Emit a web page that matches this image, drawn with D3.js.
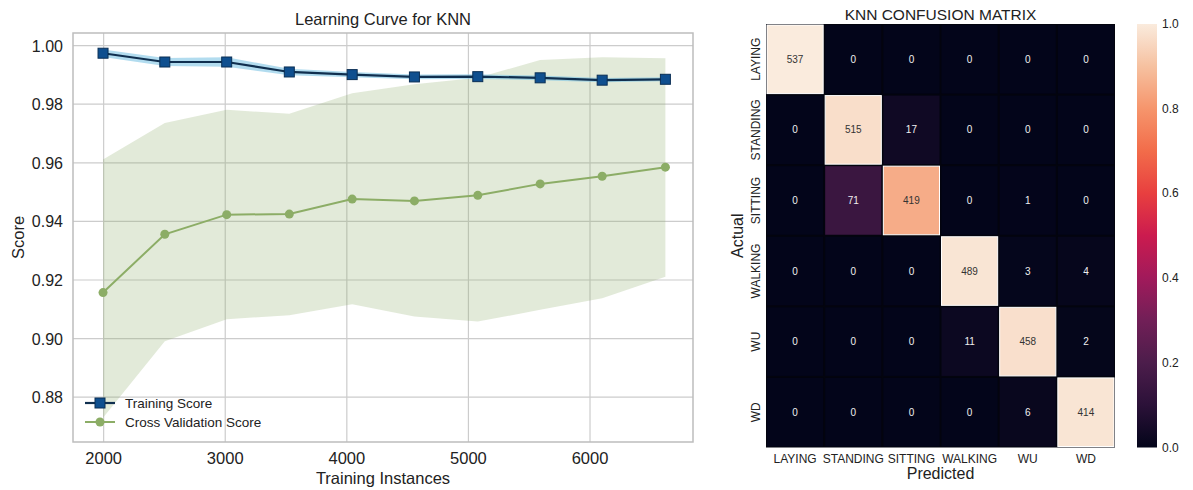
<!DOCTYPE html>
<html>
<head>
<meta charset="utf-8">
<script src="https://cdn.jsdelivr.net/npm/d3@7"></script>
<style>
  body { margin: 0; background: #fff; }
  text { font-family: "Liberation Sans", Arial, sans-serif; }
</style>
</head>
<body>
<div id="chart"></div>
<script>
// learning curve values
const trainSizes = [1995, 2503, 3012, 3527, 4044, 4556, 5077, 5590, 6100, 6620];
const trainScore = [0.9974, 0.9944, 0.9944, 0.9910, 0.9901, 0.9893, 0.9894, 0.9890, 0.9882, 0.9885];
const trainStd   = [0.0013, 0.0014, 0.0016, 0.0011, 0.0009, 0.0008, 0.0008, 0.0008, 0.0007, 0.0007];
const cvScore = [0.9157, 0.9356, 0.9423, 0.9425, 0.9476, 0.9470, 0.9489, 0.9528, 0.9554, 0.9585];
const cvUpper = [0.9611, 0.9736, 0.9781, 0.9767, 0.9837, 0.9868, 0.9890, 0.9951, 0.9960, 0.9957];
const cvLower = [0.8730, 0.8991, 0.9066, 0.9080, 0.9117, 0.9075, 0.9058, 0.9098, 0.9138, 0.9211];
const xTicks = [2000, 3000, 4000, 5000, 6000];
const yTicks = [0.88, 0.90, 0.92, 0.94, 0.96, 0.98, 1.00];

// confusion matrix
const classes = ["LAYING", "STANDING", "SITTING", "WALKING", "WU", "WD"];
const matrix = [
  [537, 0, 0, 0, 0, 0],
  [0, 515, 17, 0, 0, 0],
  [0, 71, 419, 0, 1, 0],
  [0, 0, 0, 489, 3, 4],
  [0, 0, 0, 11, 458, 2],
  [0, 0, 0, 0, 6, 414]
];
const cbarTicks = [0, 0.2, 0.4, 0.6, 0.8, 1.0];

const width = 1193;
const height = 490;

const svg = d3.select("#chart")
  .append("svg")
  .attr("width", width)
  .attr("height", height);

// ---------- learning curve ----------
const lc = { left: 73, right: 693, top: 33, bottom: 442 };

const x = d3.scaleLinear().domain([1748, 6847]).range([lc.left, lc.right]);
const y = d3.scaleLinear().domain([0.8647, 1.0043]).range([lc.bottom, lc.top]);

const gridColor = "#cccccc";
const left = svg.append("g");

left.selectAll(".vgrid").data(xTicks).enter().append("line")
  .attr("x1", (d) => x(d)).attr("x2", (d) => x(d))
  .attr("y1", lc.top).attr("y2", lc.bottom)
  .attr("stroke", gridColor).attr("stroke-width", 1.2);

left.selectAll(".hgrid").data(yTicks).enter().append("line")
  .attr("x1", lc.left).attr("x2", lc.right)
  .attr("y1", (d) => y(d)).attr("y2", (d) => y(d))
  .attr("stroke", gridColor).attr("stroke-width", 1.2);

const green = "#8cad66";
const blue = "#0f4f8f";
const navy = "#102f4f";

const cvData = trainSizes.map((s, i) => ({ s, m: cvScore[i], lo: cvLower[i], hi: cvUpper[i] }));
const trData = trainSizes.map((s, i) => ({ s, m: trainScore[i], lo: trainScore[i] - trainStd[i], hi: trainScore[i] + trainStd[i] }));

const area = d3.area().x((d) => x(d.s)).y0((d) => y(d.lo)).y1((d) => y(d.hi));
const line = d3.line().x((d) => x(d.s)).y((d) => y(d.m));

left.append("path").datum(cvData).attr("d", area)
  .attr("fill", green).attr("fill-opacity", 0.25);
left.append("path").datum(trData).attr("d", area)
  .attr("fill", "#7ec4e4").attr("fill-opacity", 0.6);

left.append("path").datum(cvData).attr("d", line)
  .attr("fill", "none").attr("stroke", green).attr("stroke-width", 2);
left.selectAll(".cvdot").data(cvData).enter().append("circle")
  .attr("cx", (d) => x(d.s)).attr("cy", (d) => y(d.m)).attr("r", 4.5)
  .attr("fill", green);

left.append("path").datum(trData).attr("d", line)
  .attr("fill", "none").attr("stroke", navy).attr("stroke-width", 2.2);
left.selectAll(".trdot").data(trData).enter().append("rect")
  .attr("x", (d) => x(d.s) - 5).attr("y", (d) => y(d.m) - 5)
  .attr("width", 10).attr("height", 10)
  .attr("fill", blue).attr("stroke", "#0a2f55").attr("stroke-width", 1);

left.append("rect")
  .attr("x", lc.left).attr("y", lc.top)
  .attr("width", lc.right - lc.left).attr("height", lc.bottom - lc.top)
  .attr("fill", "none").attr("stroke", "#bdbdbd").attr("stroke-width", 1.5);

left.selectAll(".xt").data(xTicks).enter().append("text")
  .attr("x", (d) => x(d)).attr("y", 464)
  .attr("text-anchor", "middle").style("font-size", "16.5px").attr("fill", "#222")
  .text((d) => d);

left.selectAll(".yt").data(yTicks).enter().append("text")
  .attr("x", 63).attr("y", (d) => y(d) + 6)
  .attr("text-anchor", "end").style("font-size", "16px").attr("fill", "#222")
  .text((d) => d.toFixed(2));

left.append("text")
  .attr("x", (lc.left + lc.right) / 2).attr("y", 25)
  .attr("text-anchor", "middle").style("font-size", "16.5px").attr("fill", "#222")
  .text("Learning Curve for KNN");

left.append("text")
  .attr("x", (lc.left + lc.right) / 2).attr("y", 484)
  .attr("text-anchor", "middle").style("font-size", "16.5px").attr("fill", "#222")
  .text("Training Instances");

left.append("text")
  .attr("transform", `translate(24,${(lc.top + lc.bottom) / 2}) rotate(-90)`)
  .attr("text-anchor", "middle").style("font-size", "16.5px").attr("fill", "#222")
  .text("Score");

// legend
const legend = left.append("g");
legend.append("line").attr("x1", 85).attr("x2", 115).attr("y1", 403).attr("y2", 403)
  .attr("stroke", navy).attr("stroke-width", 2.2);
legend.append("rect").attr("x", 95).attr("y", 398).attr("width", 10).attr("height", 10)
  .attr("fill", blue).attr("stroke", "#0a2f55");
legend.append("text").attr("x", 125).attr("y", 407.5)
  .style("font-size", "13.5px").attr("fill", "#222").text("Training Score");
legend.append("line").attr("x1", 85).attr("x2", 115).attr("y1", 422).attr("y2", 422)
  .attr("stroke", green).attr("stroke-width", 2);
legend.append("circle").attr("cx", 100).attr("cy", 422).attr("r", 4.5).attr("fill", green);
legend.append("text").attr("x", 125).attr("y", 426.5)
  .style("font-size", "13.5px").attr("fill", "#222").text("Cross Validation Score");

// ---------- confusion matrix ----------
const hm = { left: 766, right: 1115, top: 24, bottom: 447.5 };

const hx = d3.scaleBand().domain(classes).range([hm.left, hm.right]);
const hy = d3.scaleBand().domain(classes).range([hm.top, hm.bottom]);

const rocketStops = ["#03051a", "#2b1138", "#4c1d4b", "#711f57", "#a11a5b", "#cb1b4f",
  "#e83f3f", "#f26c4a", "#f6956c", "#f6c1a0", "#faebdd"];
const rocket = d3.scaleLinear()
  .domain(d3.range(rocketStops.length).map((i) => i / (rocketStops.length - 1)))
  .range(rocketStops)
  .interpolate(d3.interpolateRgb);

const cells = [];
matrix.forEach((row, i) => {
  const total = d3.sum(row);
  row.forEach((v, j) => {
    cells.push({ actual: classes[i], pred: classes[j], v, p: v / total });
  });
});

const right = svg.append("g");

right.append("rect")
  .attr("x", hm.left).attr("y", hm.top)
  .attr("width", hm.right - hm.left).attr("height", hm.bottom - hm.top)
  .attr("fill", "#03040e");

right.selectAll(".cell").data(cells).enter().append("rect")
  .attr("x", (d) => hx(d.pred) + 1).attr("y", (d) => hy(d.actual) + 1)
  .attr("width", hx.bandwidth() - 2).attr("height", hy.bandwidth() - 2)
  .attr("fill", (d) => rocket(d.p))
  .attr("stroke", (d) => d.p > 0.5 ? "#ffffff" : "none")
  .attr("stroke-width", 1);

right.selectAll(".val").data(cells).enter().append("text")
  .attr("x", (d) => hx(d.pred) + hx.bandwidth() / 2)
  .attr("y", (d) => hy(d.actual) + hy.bandwidth() / 2 + 3.5)
  .attr("text-anchor", "middle").style("font-size", "10px")
  .attr("fill", (d) => d.p > 0.5 ? "#333" : "#f0f0f0")
  .text((d) => d.v);

right.selectAll(".hxt").data(classes).enter().append("text")
  .attr("x", (d) => hx(d) + hx.bandwidth() / 2).attr("y", 463)
  .attr("text-anchor", "middle").style("font-size", "12px").attr("fill", "#222")
  .text((d) => d);

right.selectAll(".hyt").data(classes).enter().append("text")
  .attr("transform", (d) => `translate(760,${hy(d) + hy.bandwidth() / 2}) rotate(-90)`)
  .attr("text-anchor", "middle").style("font-size", "12px").attr("fill", "#222")
  .text((d) => d);

right.append("text")
  .attr("x", (hm.left + hm.right) / 2).attr("y", 20)
  .attr("text-anchor", "middle").style("font-size", "15.5px").attr("fill", "#222")
  .text("KNN CONFUSION MATRIX");

right.append("text")
  .attr("x", (hm.left + hm.right) / 2).attr("y", 479)
  .attr("text-anchor", "middle").style("font-size", "16px").attr("fill", "#222")
  .text("Predicted");

right.append("text")
  .attr("transform", `translate(743,${(hm.top + hm.bottom) / 2}) rotate(-90)`)
  .attr("text-anchor", "middle").style("font-size", "16px").attr("fill", "#222")
  .text("Actual");

// colorbar
const cb = { x: 1137, w: 20, top: 24, bottom: 447.5 };
const cy = d3.scaleLinear().domain([0, 1]).range([cb.bottom, cb.top]);

const grad = svg.append("defs").append("linearGradient")
  .attr("id", "rocketGrad").attr("x1", "0").attr("y1", "1").attr("x2", "0").attr("y2", "0");
grad.selectAll("stop").data(d3.range(0, 1.0001, 0.05)).enter().append("stop")
  .attr("offset", (d) => d).attr("stop-color", (d) => rocket(d));

right.append("rect")
  .attr("x", cb.x).attr("y", cb.top).attr("width", cb.w).attr("height", cb.bottom - cb.top)
  .attr("fill", "url(#rocketGrad)");

right.selectAll(".cbt").data(cbarTicks).enter().append("text")
  .attr("x", cb.x + cb.w + 5).attr("y", (d) => cy(d) + 4)
  .style("font-size", "12px").attr("fill", "#222")
  .text((d) => d.toFixed(1));
</script>
</body>
</html>
